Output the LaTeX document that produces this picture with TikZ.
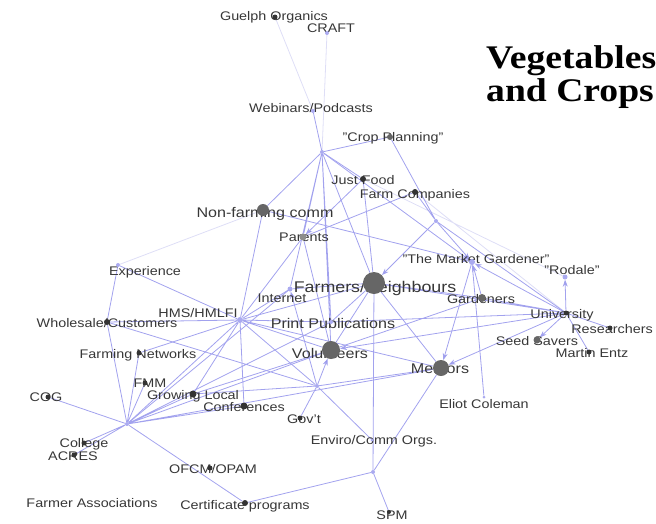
\documentclass[tikz,border=0pt]{standalone}
\usepackage{fontspec}
\setmainfont{Liberation Sans}
\newfontfamily\headfont{Liberation Serif}
\usetikzlibrary{arrows.meta}
\pgfdeclarelayer{links}
\pgfsetlayers{links,main}
\definecolor{linkblue}{RGB}{162,162,238}
\definecolor{paleblue}{RGB}{222,222,246}
\definecolor{tipblue}{RGB}{135,135,232}
\definecolor{hubblue}{RGB}{170,170,240}
\definecolor{labelgray}{RGB}{55,55,55}

\begin{document}
\begin{tikzpicture}[x=1pt, y=-1pt,
    link/.style = {draw=linkblue, line width=0.8pt},
    pale/.style = {draw=paleblue, line width=0.8pt},
    flow/.style = {link, -{Stealth[length=7pt, width=5pt, fill=tipblue]}},
    lbl/.style = {text=labelgray, inner sep=0pt, xscale=1.15, font=\fontsize{12.5}{13}\selectfont},
    midlbl/.style = {lbl, font=\fontsize{14}{15}\selectfont},
    biglbl/.style = {lbl, font=\fontsize{15.5}{16}\selectfont},
    dot/.style = {circle, fill=black!80, inner sep=0pt, minimum size=6pt},
    gdot/.style = {circle, fill=black!60, inner sep=0pt, minimum size=#1},
    gdot/.default = 8pt,
    hub/.style = {circle, fill=hubblue, inner sep=0pt, minimum size=4pt},
    head/.style = {anchor=base west, inner sep=0pt, xscale=1.14, font=\headfont\bfseries\fontsize{33}{36}\selectfont}]

    \useasboundingbox (0,0) rectangle (656,523);

    % title
    \node[head] (title1) at (486,68) {Vegetables};
    \node[head] (title2) at (486,101) {and Crops};

    % labels
    \node[lbl] (guelph-l) at (274,17) {Guelph Organics};
    \node[lbl] (craft-l) at (331,28) {CRAFT};
    \node[lbl] (webinars-l) at (311,108) {Webinars/Podcasts};
    \node[lbl] (crop-l) at (393,138) {"Crop Planning"};
    \node[lbl] (justfood-l) at (363,180) {Just Food};
    \node[lbl] (farmco-l) at (415,195) {Farm Companies};
    \node[midlbl] (nonfarm-l) at (265,214) {Non-farming comm};
    \node[lbl] (parents-l) at (304,237) {Parents};
    \node[lbl] (marketg-l) at (476,259) {"The Market Gardener"};
    \node[lbl] (rodale-l) at (572,270) {"Rodale"};
    \node[biglbl] (farmers-l) at (375,288) {Farmers/Neighbours};
    \node[lbl] (internet-l) at (282,298) {Internet};
    \node[lbl] (gardeners-l) at (481,299) {Gardeners};
    \node[lbl] (hms-l) at (198,313) {HMS/HMLFI};
    \node[lbl] (experience-l) at (145,272) {Experience};
    \node[midlbl] (printpub-l) at (333,323) {Print Publications};
    \node[lbl] (university-l) at (562,315) {University};
    \node[lbl] (researchers-l) at (612,329) {Researchers};
    \node[lbl] (seedsavers-l) at (537,341) {Seed Savers};
    \node[lbl] (martin-l) at (592,353) {Martin Entz};
    \node[lbl] (wholesale-l) at (107,323) {Wholesale/Customers};
    \node[lbl] (farmingnet-l) at (138,355) {Farming Networks};
    \node[midlbl] (volunteers-l) at (330,353) {Volunteers};
    \node[midlbl] (mentors-l) at (440,369) {Mentors};
    \node[lbl] (fmm-l) at (150,383) {FMM};
    \node[lbl] (growing-l) at (193,396) {Growing Local};
    \node[lbl] (conferences-l) at (244,407) {Conferences};
    \node[lbl] (govt-l) at (304,419) {Gov't};
    \node[lbl] (cog-l) at (46,397) {COG};
    \node[lbl] (eliot-l) at (484,404) {Eliot Coleman};
    \node[lbl] (enviro-l) at (374,441) {Enviro/Comm Orgs.};
    \node[lbl] (college-l) at (84,444) {College};
    \node[lbl] (acres-l) at (73,456) {ACRES};
    \node[lbl] (ofcm-l) at (213,469) {OFCM/OPAM};
    \node[lbl] (farmerassoc-l) at (92,503) {Farmer Associations};
    \node[lbl] (certificate-l) at (245,506) {Certificate programs};
    \node[lbl] (spm-l) at (392,515) {SPM};

    % vertices
    \node[dot, minimum size=5pt] (guelph) at (275,17) {};
    \node[hub] (craft) at (327,33) {};
    \node[hub] (webinars) at (313,111) {};
    \node[hub] (hubtop) at (322,152) {};
    \node[gdot=6pt] (crop) at (390,137) {};
    \node[dot] (justfood) at (363,179) {};
    \node[dot] (farmco) at (415,192) {};
    \node[gdot=12pt] (nonfarm) at (263,210) {};
    \node[hub] (hubright) at (436,221) {};
    \node[gdot=7pt, fill=black!45] (parents) at (303,237) {};
    \node[hub, minimum size=6pt] (marketg) at (472,262) {};
    \node[hub, minimum size=5pt] (rodale) at (565,277) {};
    \node[gdot=22pt] (farmers) at (374,283) {};
    \node[hub, minimum size=5pt] (internet) at (290,289) {};
    \node[gdot=8pt] (gardeners) at (482,298) {};
    \node[hub, minimum size=6pt] (hms) at (240,320) {};
    \node[hub] (experience) at (118,265) {};
    \node[hub] (printpub) at (331,322) {};
    \node[dot, minimum size=5pt] (university) at (566,313) {};
    \node[dot, minimum size=5pt] (researchers) at (610,328) {};
    \node[gdot=7pt] (seedsavers) at (537,340) {};
    \node[dot, minimum size=5pt] (martin) at (589,352) {};
    \node[dot] (wholesale) at (107,322) {};
    \node[dot, minimum size=5pt] (farmingnet) at (139,353) {};
    \node[gdot=18pt] (volunteers) at (331,350) {};
    \node[gdot=16pt] (mentors) at (441,368) {};
    \node[dot, minimum size=5pt] (fmm) at (145,383) {};
    \node[dot, minimum size=7pt] (growing) at (193,394) {};
    \node[dot, minimum size=7pt] (conferences) at (244,406) {};
    \node[hub] (hubmid) at (317,386) {};
    \node[dot, minimum size=5pt] (govt) at (300,418) {};
    \node[dot, minimum size=5pt] (cog) at (48,397) {};
    \node[hub] (hubleft) at (127,424) {};
    \node[hub, minimum size=3pt] (eliot) at (484,397) {};
    \node[hub, minimum size=3pt] (enviro) at (372,440) {};
    \node[dot, minimum size=5pt] (college) at (84,443) {};
    \node[dot, minimum size=5pt] (acres) at (74,455) {};
    \node[dot, minimum size=5pt] (ofcm) at (210,468) {};
    \node[hub] (hubbottom) at (373,472) {};
    \node[dot] (certificate) at (245,503) {};
    \node[dot, minimum size=4pt] (spm) at (389,512) {};

    % connectors
    \begin{pgfonlayer}{links}
    \draw[pale] (guelph) -- (webinars) (craft) -- (hubtop) (nonfarm) -- (experience)
        (justfood) -- (rodale) (farmco) -- (university);
    \draw[link] (hubtop) -- (webinars) (hubtop) -- (crop) (hubtop) -- (nonfarm)
        (hubtop) -- (justfood) (hubtop) -- (parents) (hubtop) -- (internet)
        (hubtop) -- (printpub) (hubtop) -- (farmers) (hubtop) -- (volunteers);
    \draw[link] (nonfarm) -- (hms) (parents) -- (farmco) (parents) -- (hms)
        (parents) -- (volunteers) (justfood) -- (farmers) (farmco) -- (hubright)
        (crop) -- (hubright) (hubright) -- (university) (eliot) -- (marketg);
    \draw[link] (university) -- (researchers) (university) -- (martin)
        (university) -- (gardeners) (university) -- (farmers) (university) -- (printpub);
    \draw[link] (farmers) -- (hms) (farmers) -- (internet) (farmers) -- (printpub)
        (farmers) -- (volunteers) (farmers) -- (mentors) (farmers) -- (hubbottom)
        (gardeners) -- (farmers) (gardeners) -- (volunteers);
    \draw[link] (hms) -- (experience) (hms) -- (wholesale) (hms) -- (farmingnet)
        (hms) -- (internet) (hms) -- (printpub) (hms) -- (volunteers) (hms) -- (mentors)
        (hms) -- (growing) (hms) -- (conferences) (hms) -- (hubleft) (hms) -- (hubmid);
    \draw[link] (wholesale) -- (experience) (wholesale) -- (hubleft) (wholesale) -- (hubmid)
        (hubleft) -- (farmingnet) (hubleft) -- (fmm) (hubleft) -- (growing)
        (hubleft) -- (conferences) (hubleft) -- (cog) (hubleft) -- (college)
        (hubleft) -- (acres) (hubleft) -- (certificate) (hubleft) -- (volunteers)
        (hubleft) -- (printpub) (hubleft) -- (internet) (hubleft) -- (mentors);
    \draw[link] (growing) -- (volunteers) (growing) -- (hubmid) (certificate) -- (hubbottom)
        (hubbottom) -- (spm) (hubbottom) -- (mentors) (hubmid) -- (enviro)
        (hubmid) -- (govt) (hubmid) -- (mentors);
    \draw[flow] (justfood) -- (parents);
    \draw[flow] (hubtop) -- (marketg);
    \draw[flow] (nonfarm) -- (marketg);
    \draw[flow] (hubright) -- (farmers);
    \draw[flow] (hubright) -- (marketg);
    \draw[flow] (gardeners) -- (marketg);
    \draw[flow] (university) -- (marketg);
    \draw[flow] (university) -- (rodale);
    \draw[flow] (university) -- (seedsavers);
    \draw[flow] (university) -- (mentors);
    \draw[flow] (university) -- (volunteers);
    \draw[flow] (marketg) -- (mentors);
    \draw[flow] (hubmid) -- (volunteers);
    \draw[flow] (hubmid) -- (internet);
    \end{pgfonlayer}
\end{tikzpicture}
\end{document}
